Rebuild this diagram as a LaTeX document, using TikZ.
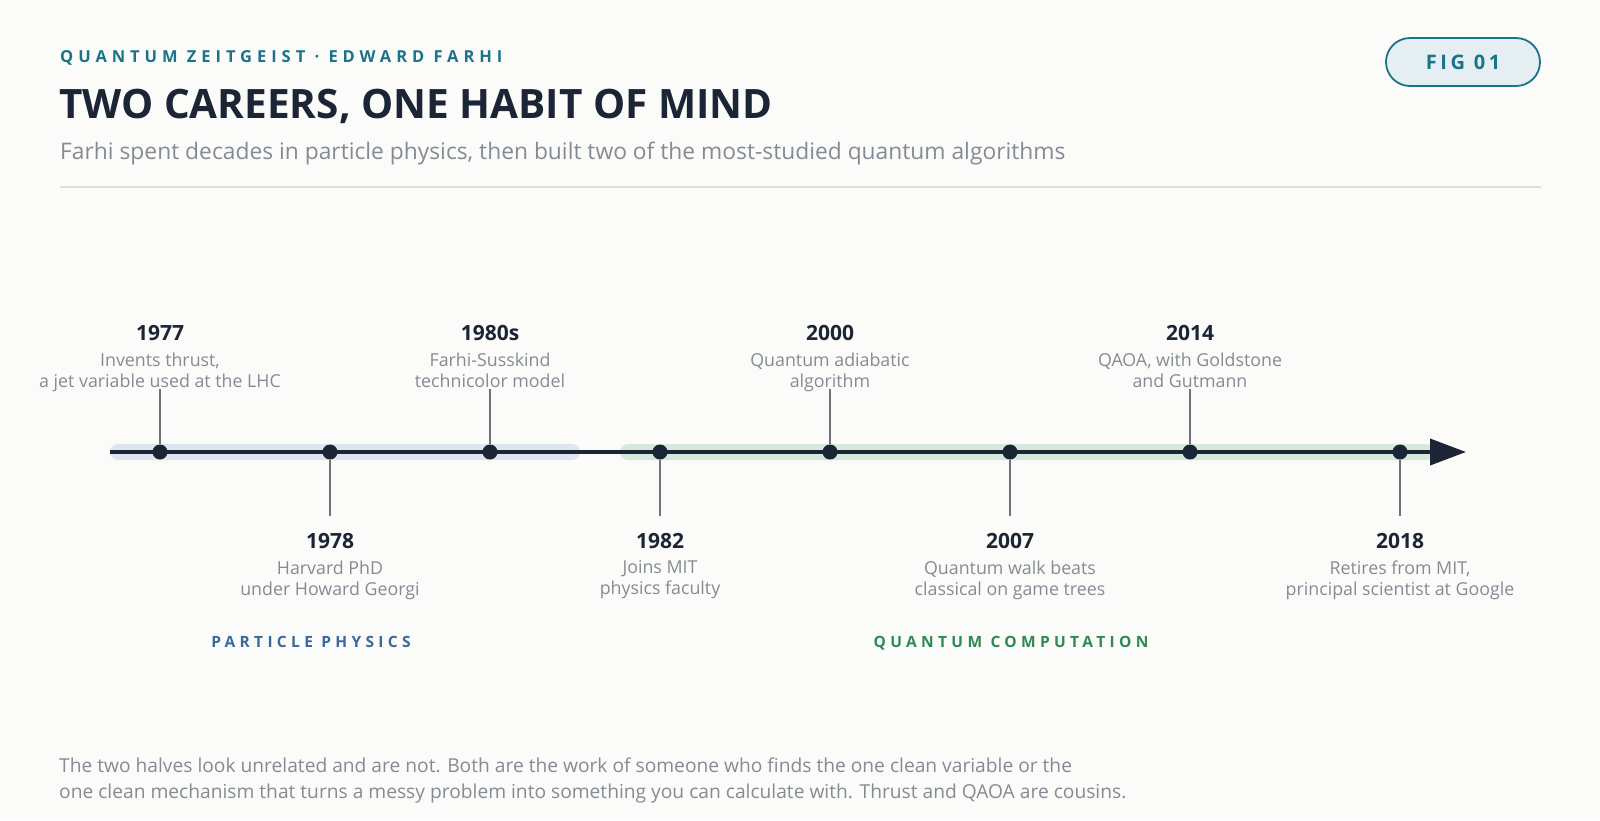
\documentclass[tikz,border=0pt]{standalone}
\usepackage{fontspec}
\setmainfont{Open Sans}
\usetikzlibrary{arrows.meta}
\definecolor{bg}{HTML}{FBFBF9}
\definecolor{ink}{HTML}{1B2535}
\definecolor{teal}{HTML}{1B7389}
\definecolor{sub}{HTML}{858B95}
\definecolor{rulec}{HTML}{DEDFDC}
\definecolor{pillfill}{HTML}{E5EEF2}
\definecolor{ppband}{HTML}{DFE5EE}
\definecolor{qcband}{HTML}{D5E8DC}
\definecolor{stemc}{HTML}{6E747C}
\definecolor{ppc}{HTML}{3A6A9C}
\definecolor{qcc}{HTML}{2E8A55}
\tikzset{
  year/.style={font=\fontsize{21}{24}\selectfont\bfseries, text=ink, anchor=center, inner sep=0},
  desc/.style={font=\fontsize{17.8}{21}\selectfont, text=sub, align=center, anchor=north, inner sep=0},
  dotn/.style={circle, fill=ink, minimum size=15, inner sep=0},
  stem/.style={draw=stemc, line width=1.2},
  phase/.style={font=\fontsize{15.5}{18}\selectfont\bfseries\addfontfeatures{LetterSpace=28}, anchor=base, inner sep=0},
}
\begin{document}
\begin{tikzpicture}[x=1pt,y=-1pt]
\useasboundingbox[fill=bg] (0,0) rectangle (1600,820);
% header
\node[anchor=west, inner sep=0, text=teal, font=\fontsize{16.5}{19}\selectfont\bfseries\addfontfeatures{LetterSpace=30}] (kicker) at (60,58) {QUANTUM ZEITGEIST · EDWARD FARHI};
\node[anchor=west, inner sep=0, text=ink, font=\fontsize{40.5}{46}\selectfont\bfseries] (title) at (59,106) {TWO CAREERS, ONE HABIT OF MIND};
\node[anchor=west, inner sep=0, text=sub, font=\fontsize{22.8}{27}\selectfont] (subtitle) at (60,154) {Farhi spent decades in particle physics, then built two of the most-studied quantum algorithms};
\draw[rulec, line width=1.5] (60,187) -- (1541,187);
\node[draw=teal, line width=1.8, fill=pillfill, rounded corners=24, minimum width=154, minimum height=48, inner sep=0, text=teal, font=\fontsize{20}{23}\selectfont\bfseries\addfontfeatures{LetterSpace=18}] (fig) at (1463,62) {FIG 01};
% bands
\fill[ppband, rounded corners=8] (110,444) rectangle (580,460);
\fill[qcband, rounded corners=8] (620,444) rectangle (1434,460);
% axis
\coordinate (start) at (110,452);
\coordinate (tip) at (1466,452);
\draw[ink, line width=3.8, -{Triangle[length=36, width=26]}] (start) -- (tip);
% dots
\node[dotn] (d1977) at (160,452) {};
\node[dotn] (d1978) at (330,452) {};
\node[dotn] (d1980) at (490,452) {};
\node[dotn] (d1982) at (660,452) {};
\node[dotn] (d2000) at (830,452) {};
\node[dotn] (d2007) at (1010,452) {};
\node[dotn] (d2014) at (1190,452) {};
\node[dotn] (d2018) at (1400,452) {};
% top events
\foreach \n/\x/\y/\a/\b in {1977/160/1977/{Invents thrust,}/{a jet variable used at the LHC},
                       1980/490/1980s/{Farhi-Susskind}/{technicolor model},
                       2000/830/2000/{Quantum adiabatic}/{algorithm},
                       2014/1190/2014/{QAOA, with Goldstone}/{and Gutmann}}{
  \node[year] (y\n) at (\x,333) {\y};
  \node[desc] (t\n) at (\x,352.5) {\a\\\b};
  \coordinate (s\n) at (\x,389);
  \draw[stem] (s\n) -- (d\n);
}
% bottom events
\foreach \n/\x/\a/\b in {1978/330/{Harvard PhD}/{under Howard Georgi},
                       1982/660/{Joins MIT}/{physics faculty},
                       2007/1010/{Quantum walk beats}/{classical on game trees},
                       2018/1400/{Retires from MIT,}/{principal scientist at Google}}{
  \node[year] (y\n) at (\x,541) {\n};
  \node[desc] (t\n) at (\x,560.5) {\a\\\b};
  \coordinate (s\n) at (\x,516);
  \draw[stem] (d\n) -- (s\n);
}
% phases
\node[phase, text=ppc] (pp) at (311,647) {PARTICLE PHYSICS};
\node[phase, text=qcc] (qc) at (1011,647) {QUANTUM COMPUTATION};
% footer
\node[anchor=north west, inner sep=0, text=sub, align=left, font=\fontsize{19.2}{26}\selectfont] (foot) at (59,757.5) {The two halves look unrelated and are not. Both are the work of someone who finds the one clean variable or the\\one clean mechanism that turns a messy problem into something you can calculate with. Thrust and QAOA are cousins.};
\end{tikzpicture}
\end{document}
